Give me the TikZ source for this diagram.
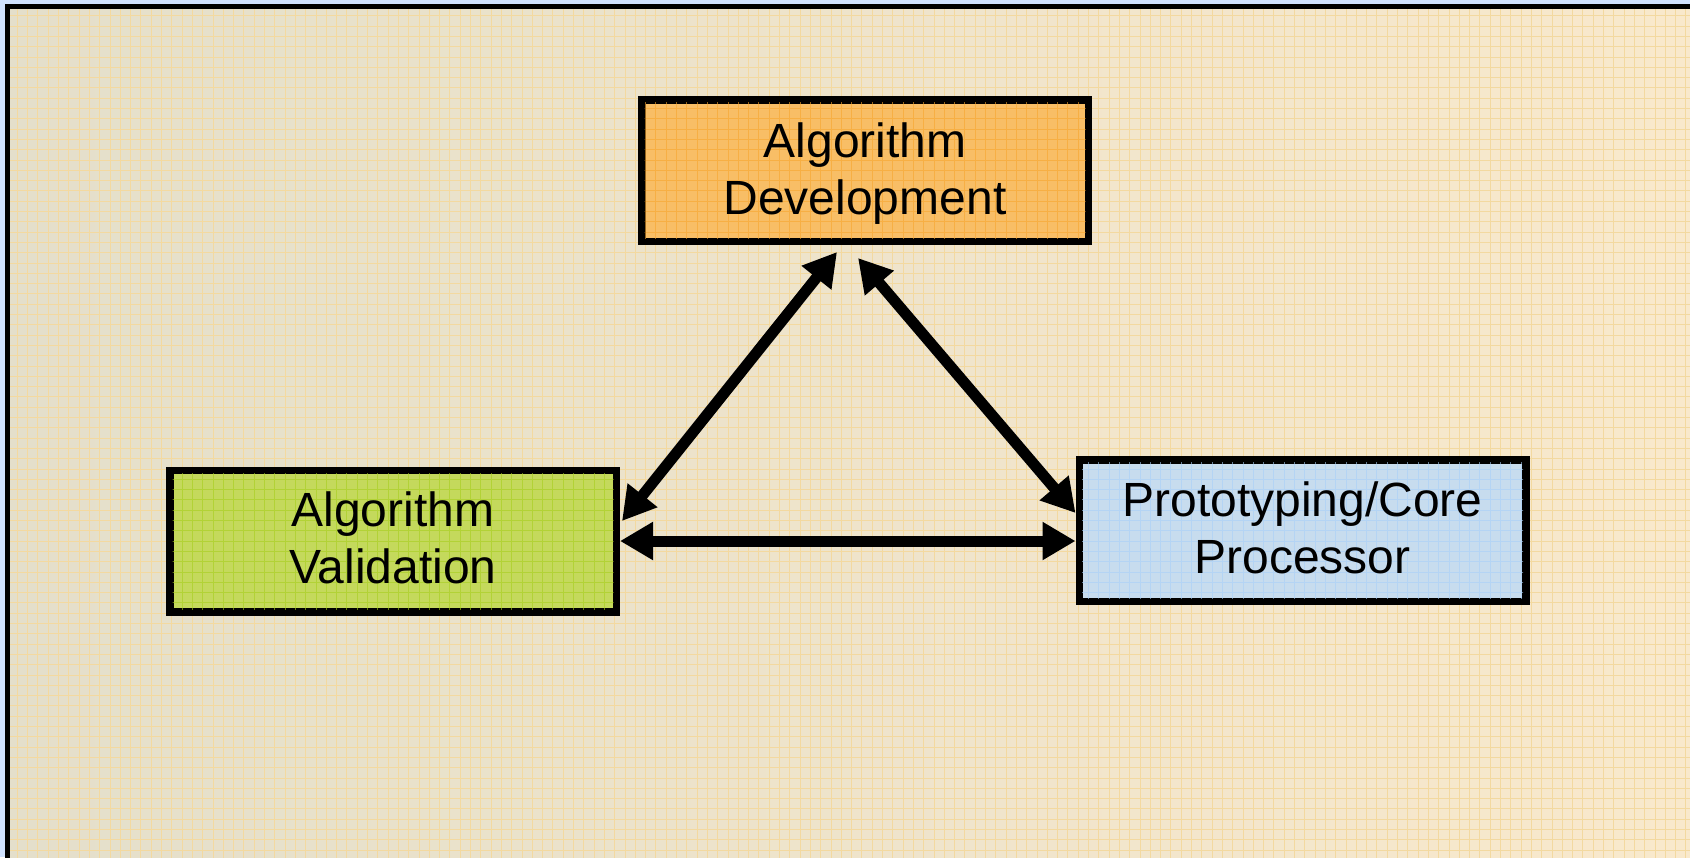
\documentclass[tikz,border=0pt]{standalone}
\usepackage{fontspec}
\setmainfont{Liberation Sans}
\usetikzlibrary{arrows.meta,calc}
\definecolor{outerblue}{HTML}{D0E2FF}
\definecolor{bgleft}{HTML}{E4DFCB}
\definecolor{bgright}{HTML}{F9E9CC}
\definecolor{gridc}{HTML}{F3D9A0}
\definecolor{devfill}{HTML}{F8BE66}
\definecolor{devgrid}{HTML}{F7A52E}
\definecolor{valfill}{HTML}{C4D95C}
\definecolor{valgrid}{HTML}{A6CE1E}
\definecolor{profill}{HTML}{C7DCEE}
\definecolor{progrid}{HTML}{A8D0F8}
\tikzset{
  blockbox/.style={draw=black, line width=2.5pt, minimum width=222pt, minimum height=69.5pt,
    inner sep=0pt},
  blocklabel/.style={inner sep=0pt, align=center, font=\fontsize{24}{28.5}\selectfont},
  gridline/.style={line width=0.5pt, xstep=5.15pt, ystep=5.15pt},
  conn/.style={line width=5.5pt,
    {Triangle[length=16.5pt,width=18pt]}-{Triangle[length=16.5pt,width=18pt]}}
}
\begin{document}
\begin{tikzpicture}[x=0.5pt,y=0.5pt]
\useasboundingbox (0,0) rectangle (1690,-857);
% outer background
\fill[outerblue] (0,0) rectangle (1690,-857);
\shade[left color=bgleft, right color=bgright] (10,-9) rectangle (1690,-857);
\begin{scope}
  \clip (10,-9) rectangle (1690,-857);
  \draw[gridline, gridc, shift={(7,-5.5)}] (-7,5.5) grid (1700,-870);
\end{scope}
\draw[line width=2.6pt] (7.5,-6.5) rectangle (1720,-890);
% boxes
\node[blockbox, fill=devfill] (dev) at (865,-170.5) {};
\node[blockbox, fill=valfill] (val) at (393,-541) {};
\node[blockbox, fill=profill] (pro) at (1302.5,-530.5) {};
% inner grids
\begin{scope}
  \clip ($(dev.north west)+(4,-4)$) rectangle ($(dev.south east)+(-4,4)$);
  \draw[gridline, devgrid, opacity=0.6, shift={(7,-5.5)}] (600,-80) grid (1120,-260);
\end{scope}
\begin{scope}
  \clip ($(val.north west)+(4,-4)$) rectangle ($(val.south east)+(-4,4)$);
  \draw[gridline, valgrid, opacity=0.6, shift={(7,-5.5)}] (150,-450) grid (640,-630);
\end{scope}
\begin{scope}
  \clip ($(pro.north west)+(4,-4)$) rectangle ($(pro.south east)+(-4,4)$);
  \draw[gridline, progrid, opacity=0.6, shift={(7,-5.5)}] (1060,-440) grid (1550,-620);
\end{scope}
\draw[line width=2.5pt] (dev.north west) rectangle (dev.south east);
\draw[line width=2.5pt] (val.north west) rectangle (val.south east);
\draw[line width=2.5pt] (pro.north west) rectangle (pro.south east);
% labels
\node[blocklabel, yshift=-1.3pt] (devlabel) at (dev) {Algorithm\\Development};
\node[blocklabel, yshift=1.4pt] (vallabel) at (val) {Algorithm\\Validation};
\node[blocklabel, yshift=1.15pt] (prolabel) at (pro) {Prototyping/Core\\Processor};
% connectors
\draw[conn] ($(dev.south)+(-28,-9.5)$) -- ($(val.east)+(4.5,20)$);
\draw[conn] ($(dev.south)+(-7,-15.5)$) -- ($(pro.west)+(-2.5,17.5)$);
\draw[conn] ($(val.east)+(2.5,0)$) -- ($(val.east -| pro.west)+(-2.5,0)$);
\end{tikzpicture}
\end{document}
